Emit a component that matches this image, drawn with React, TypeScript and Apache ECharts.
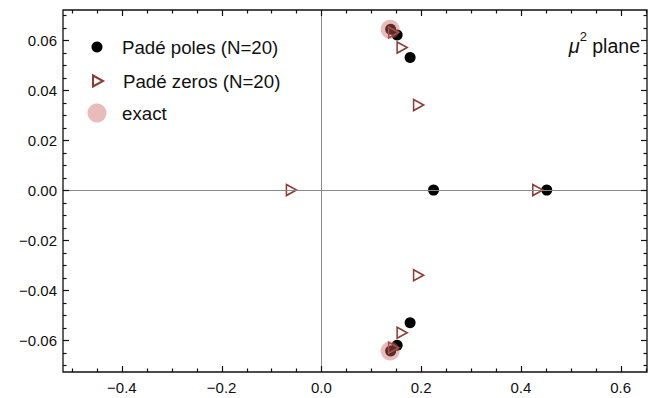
import React, { useEffect, useRef } from "react";
import * as echarts from "echarts";

const poleName = "Padé poles (N=20)";
const zeroName = "Padé zeros (N=20)";
const exactName = "exact";

const poles: number[][] = [
  [0.452, 0], [0.225, 0],
  [0.178, 0.053], [0.178, -0.053],
  [0.152, 0.062], [0.152, -0.062],
  [0.139, 0.0643], [0.139, -0.0643],
];
const zeros: number[][] = [
  [-0.06, 0], [0.434, 0],
  [0.195, 0.034], [0.195, -0.034],
  [0.162, 0.057], [0.162, -0.057],
  [0.145, 0.063], [0.145, -0.063],
];
const exact: number[][] = [
  [0.138, 0.0643], [0.138, -0.0643],
];

const xMajor = [-0.4, -0.2, 0, 0.2, 0.4, 0.6];
const xMinor = [-0.5, -0.45, -0.35, -0.3, -0.25, -0.15, -0.1, -0.05, 0.05, 0.1, 0.15, 0.25, 0.3, 0.35, 0.45, 0.5, 0.55, 0.65];
const yMajor = [-0.06, -0.04, -0.02, 0, 0.02, 0.04, 0.06];
const yMinor = [-0.07, -0.065, -0.055, -0.05, -0.045, -0.035, -0.03, -0.025, -0.015, -0.01, -0.005,
  0.005, 0.01, 0.015, 0.025, 0.03, 0.035, 0.045, 0.05, 0.055, 0.065, 0.07];

const X_MIN = -0.518;
const X_MAX = 0.653;
const Y_MIN = -0.0727;
const Y_MAX = 0.072;

const FONT = "'Liberation Sans', Arial, sans-serif";
const FRAME = "#111";
const ZERO_COLOR = "#8e3b32";
const TRI = "path://M0,0 L10,5.5 L0,11 Z";
const MAJOR_LEN = 6;
const MINOR_LEN = 3.5;

const fmt = (d: number) => (v: number) =>
  (v < -1e-9 ? "\u2212" : "") + Math.abs(v).toFixed(d);

export default function App() {
  const ref = useRef<HTMLDivElement>(null);
  useEffect(() => {
    if (!ref.current) return;
    const chart = echarts.init(ref.current, null, { renderer: "svg" });
    const lt = (pad: number) => ({
      fontFamily: FONT, fontSize: 18.7, color: "#111", lineHeight: 22, padding: [0, 0, 0, pad],
    });
    const axisLabel = (d: number, vals: number[], margin: number) => ({
      show: true,
      customValues: vals,
      formatter: fmt(d),
      color: "#111",
      fontFamily: FONT,
      fontSize: 15,
      margin,
    });
    const titleText = {
      type: "text",
      right: 22,
      top: 30,
      z: 10,
      style: {
        text: "{mu|\u03bc}{sup|2}{n| plane}",
        rich: {
          mu: { fontFamily: FONT, fontSize: 20, fontStyle: "italic", fill: "#111", lineHeight: 26, verticalAlign: "bottom" },
          sup: { fontFamily: FONT, fontSize: 13, fill: "#111", lineHeight: 26, verticalAlign: "top" },
          n: { fontFamily: FONT, fontSize: 19.5, fill: "#111", lineHeight: 26, verticalAlign: "bottom" },
        },
      },
    };
    chart.setOption({
      animation: false,
      backgroundColor: "#fff",
      grid: {
        left: 63, right: 15, top: 10, bottom: 26, containLabel: false,
        show: true, borderColor: FRAME, borderWidth: 1.3, backgroundColor: "transparent",
      },
      xAxis: {
        type: "value",
        min: X_MIN,
        max: X_MAX,
        position: "bottom",
        axisLine: { show: false },
        axisTick: { show: false },
        axisLabel: axisLabel(1, xMajor, 8),
        splitLine: { show: false },
      },
      yAxis: {
        type: "value",
        min: Y_MIN,
        max: Y_MAX,
        position: "left",
        axisLine: { show: false },
        axisTick: { show: false },
        axisLabel: axisLabel(2, yMajor, 6),
        splitLine: { show: false },
      },
      legend: [
        {
          data: [{ name: poleName, icon: "circle" }],
          left: 91.5, top: 36, padding: 0, itemWidth: 11, itemHeight: 11,
          textStyle: lt(14.5), selectedMode: false,
        },
        {
          data: [{ name: zeroName, icon: TRI }],
          left: 92, top: 70, padding: 0, itemWidth: 10, itemHeight: 11,
          textStyle: lt(15), selectedMode: false,
        },
        {
          data: [{ name: exactName, icon: "circle" }],
          left: 87.5, top: 102, padding: 0, itemWidth: 19, itemHeight: 19,
          textStyle: lt(10.5), selectedMode: false,
        },
      ],
      graphic: [titleText],
      series: [
        {
          name: "axes",
          type: "scatter",
          data: [],
          z: 1,
          silent: true,
          markLine: {
            silent: true,
            symbol: "none",
            label: { show: false },
            lineStyle: { color: "#8a8a8a", width: 1, type: "solid" },
            data: [{ xAxis: 0 }, { yAxis: 0 }],
          },
        },
        {
          name: poleName,
          type: "scatter",
          data: poles,
          symbol: "circle",
          symbolSize: 11,
          itemStyle: { color: "#000", opacity: 1 },
          z: 3,
        },
        {
          name: zeroName,
          type: "scatter",
          data: zeros,
          symbol: TRI,
          symbolSize: [10, 11],
          itemStyle: { color: "rgba(255,255,255,0)", borderColor: ZERO_COLOR, borderWidth: 1.6, opacity: 1 },
          z: 4,
        },
        {
          name: exactName,
          type: "scatter",
          data: exact,
          symbol: "circle",
          symbolSize: 19,
          itemStyle: { color: "rgba(204,102,102,0.55)" },
          z: 5,
        },
      ],
    });

    // Frame ticks, placed through the chart's own axis scales.
    const px = (v: number) => chart.convertToPixel({ xAxisIndex: 0 }, v) as number;
    const py = (v: number) => chart.convertToPixel({ yAxisIndex: 0 }, v) as number;
    const left = px(X_MIN);
    const right = px(X_MAX);
    const top = py(Y_MAX);
    const bottom = py(Y_MIN);
    const tickStyle = { stroke: FRAME, lineWidth: 1.2 };
    const ticks: any[] = [];
    const addX = (v: number, len: number) => {
      const x = Math.round(px(v)) + 0.5;
      ticks.push({ type: "line", silent: true, z: 9, shape: { x1: x, y1: bottom, x2: x, y2: bottom - len }, style: { ...tickStyle } });
      ticks.push({ type: "line", silent: true, z: 9, shape: { x1: x, y1: top, x2: x, y2: top + len }, style: { ...tickStyle } });
    };
    const addY = (v: number, len: number) => {
      const y = Math.round(py(v)) + 0.5;
      ticks.push({ type: "line", silent: true, z: 9, shape: { x1: left, y1: y, x2: left + len, y2: y }, style: { ...tickStyle } });
      ticks.push({ type: "line", silent: true, z: 9, shape: { x1: right, y1: y, x2: right - len, y2: y }, style: { ...tickStyle } });
    };
    xMajor.forEach((v) => addX(v, MAJOR_LEN));
    xMinor.forEach((v) => addX(v, MINOR_LEN));
    yMajor.forEach((v) => addY(v, MAJOR_LEN));
    yMinor.forEach((v) => addY(v, MINOR_LEN));
    chart.setOption({ graphic: [titleText, ...ticks] });

    return () => chart.dispose();
  }, []);
  return (
    <div
      ref={ref}
      style={{ position: "absolute", left: 0, top: 0, width: 662, height: 398 }}
    />
  );
}
